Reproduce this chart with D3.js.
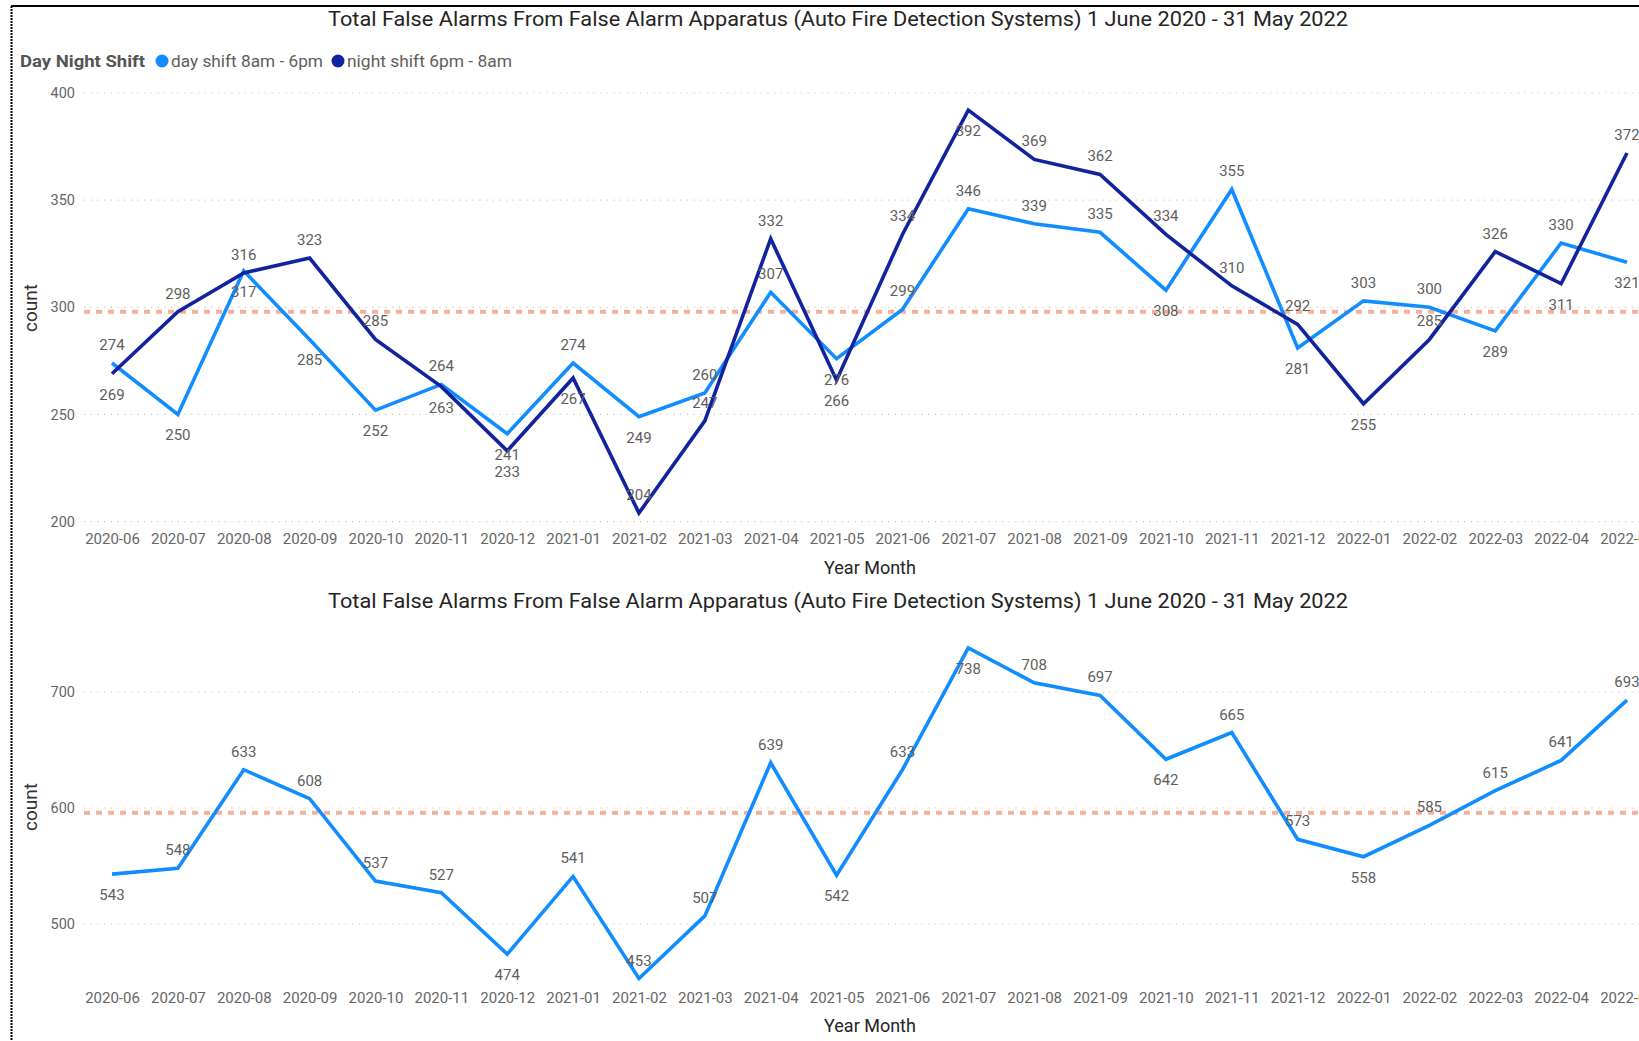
<!DOCTYPE html>
<html>
<head>
<meta charset="utf-8">
<script src="https://cdn.jsdelivr.net/npm/d3@7"></script>
<style>
  html, body { margin: 0; padding: 0; background: #fff; overflow: hidden; }
  svg { display: block; }
  text { font-family: Roboto, "Open Sans", "DejaVu Sans", sans-serif; }
</style>
</head>
<body>
<svg id="chart" width="1639" height="1041"></svg>
<script>
// ---------------- DATA ----------------
const months = ["2020-06","2020-07","2020-08","2020-09","2020-10","2020-11","2020-12",
  "2021-01","2021-02","2021-03","2021-04","2021-05","2021-06","2021-07","2021-08","2021-09",
  "2021-10","2021-11","2021-12","2022-01","2022-02","2022-03","2022-04","2022-05"];
const dayShift   = [274,250,317,285,252,264,241,274,249,260,307,276,299,346,339,335,308,355,281,303,300,289,330,321];
const nightShift = [269,298,316,323,285,263,233,267,204,247,332,266,334,392,369,362,334,310,292,255,285,326,311,372];
const totalAlarms = [543,548,633,608,537,527,474,541,453,507,639,542,633,738,708,697,642,665,573,558,585,615,641,693];
const topTicks = [200,250,300,350,400];
const bottomTicks = [500,600,700];
const topAverage = 297.9;
const bottomAverage = 595.8;
const seriesNames = ["day shift 8am - 6pm","night shift 6pm - 8am"];
const legendTitle = "Day Night Shift";
const chartTitle = "Total False Alarms From False Alarm Apparatus (Auto Fire Detection Systems) 1 June 2020 - 31 May 2022";
const xTitle = "Year Month";
const yTitle = "count";

// ---------------- LAYOUT (label sides: 1 = above, -1 = below) ----------------
const daySide   = [1,-1,-1,-1,-1,1,-1,1,-1,1,1,-1,1,1,1,1,-1,1,-1,1,1,-1,1,-1];
const nightSide = [-1,1,1,1,1,-1,-1,-1,1,1,1,-1,1,-1,1,1,1,1,1,-1,1,1,-1,1];
const totalSide = [-1,1,1,1,1,1,-1,1,1,1,1,-1,1,-1,1,1,-1,1,1,-1,1,1,1,1];

const COL_DAY = "#118DFF", COL_NIGHT = "#12239E", COL_AVG = "#F4B09A";
const COL_TICK = "#666666", COL_LABEL = "#605E5C", COL_TITLE = "#252423";

const svg = d3.select("#chart");

// borders
svg.append("line").attr("x1", 11).attr("x2", 1639).attr("y1", 6).attr("y2", 6)
  .attr("stroke", "#000").attr("stroke-width", 2);
svg.append("line").attr("x1", 11.5).attr("x2", 11.5).attr("y1", 6).attr("y2", 1041)
  .attr("stroke", "#000").attr("stroke-width", 2).attr("stroke-dasharray", "2,1");

const x = d3.scalePoint().domain(months).range([112, 1627]);
const plotLeft = 84, plotRight = 1639;

function panel(opts) {
  const g = svg.append("g");
  const y = d3.scaleLinear().domain(opts.refDomain).range(opts.refRange);

  // title
  g.append("text").attr("x", 838).attr("y", opts.titleY)
    .attr("text-anchor", "middle").attr("dominant-baseline", "central")
    .attr("font-size", 20.5).attr("fill", COL_TITLE)
    .attr("textLength", 1020).attr("lengthAdjust", "spacingAndGlyphs")
    .text(chartTitle);

  // gridlines
  g.append("g").selectAll("line").data(opts.ticks).join("line")
    .attr("x1", plotLeft).attr("x2", plotRight)
    .attr("y1", d => y(d)).attr("y2", d => y(d))
    .attr("stroke", "#C8C8C8").attr("stroke-width", 1.2).attr("stroke-dasharray", "1.2,5.5");

  // y axis
  const ya = g.append("g").attr("transform", "translate(75,0)")
    .call(d3.axisLeft(y).tickValues(opts.ticks).tickSize(0).tickPadding(0).tickFormat(d3.format("d")));
  ya.select(".domain").remove();
  ya.selectAll("text").attr("font-size", 14.5).attr("fill", COL_TICK)
    .attr("font-family", "Roboto, sans-serif");

  // y title
  g.append("text").attr("transform", `translate(31,${opts.yTitleY}) rotate(-90)`)
    .attr("text-anchor", "middle").attr("dominant-baseline", "central")
    .attr("font-size", 17.5).attr("fill", "#333")
    .attr("textLength", 48).attr("lengthAdjust", "spacingAndGlyphs").text(yTitle);

  // x axis
  const xa = g.append("g").attr("transform", `translate(0,${opts.xAxisY})`)
    .call(d3.axisBottom(x).tickSize(0).tickPadding(0));
  xa.select(".domain").remove();
  xa.selectAll("text").attr("font-size", 15).attr("fill", COL_TICK)
    .attr("font-family", "Roboto, sans-serif");

  g.append("text").attr("x", 870).attr("y", opts.xTitleY)
    .attr("text-anchor", "middle").attr("dominant-baseline", "central")
    .attr("font-size", 18).attr("fill", COL_TITLE).text(xTitle);

  // average line
  g.append("line").attr("x1", plotLeft).attr("x2", plotRight)
    .attr("y1", y(opts.avg)).attr("y2", y(opts.avg))
    .attr("stroke", COL_AVG).attr("stroke-width", 4).attr("stroke-dasharray", "6,6");

  const line = d3.line().x((d, i) => x(months[i])).y(d => y(d));
  opts.series.forEach(s => {
    g.append("path").datum(s.values).attr("d", line)
      .attr("fill", "none").attr("stroke", s.color).attr("stroke-width", 3.6)
      .attr("stroke-linejoin", "miter");
  });
  opts.series.forEach(s => {
    g.append("g").selectAll("text").data(s.values).join("text")
      .attr("x", (d, i) => x(months[i]))
      .attr("y", (d, i) => y(d) + (s.side[i] > 0 ? -18 : 21))
      .attr("text-anchor", "middle").attr("dominant-baseline", "central")
      .attr("font-size", 15).attr("fill", COL_LABEL)
      .text(d => d);
  });
  return g;
}

panel({
  refDomain: [200, 400], refRange: [521.6, 93],
  ticks: topTicks, avg: topAverage, titleY: 19, yTitleY: 308, xAxisY: 533, xTitleY: 567,
  series: [
    { values: dayShift, color: COL_DAY, side: daySide },
    { values: nightShift, color: COL_NIGHT, side: nightSide }
  ]
});

panel({
  refDomain: [500, 700], refRange: [924, 692],
  ticks: bottomTicks, avg: bottomAverage, titleY: 601, yTitleY: 807, xAxisY: 992, xTitleY: 1025.5,
  series: [
    { values: totalAlarms, color: COL_DAY, side: totalSide }
  ]
});

// legend
const lg = svg.append("g").attr("transform", "translate(0,61)");
lg.append("text").attr("x", 20).attr("y", 0).attr("dominant-baseline", "central")
  .attr("font-size", 17).attr("font-weight", "bold").attr("fill", "#555")
  .attr("textLength", 125).attr("lengthAdjust", "spacingAndGlyphs").text(legendTitle);
const legendItems = [
  { name: seriesNames[0], color: COL_DAY, cx: 162, tx: 171, w: 152 },
  { name: seriesNames[1], color: COL_NIGHT, cx: 338, tx: 347, w: 165 }
];
legendItems.forEach(it => {
  lg.append("circle").attr("cx", it.cx).attr("cy", 0).attr("r", 6.5).attr("fill", it.color);
  lg.append("text").attr("x", it.tx).attr("y", 0).attr("dominant-baseline", "central")
    .attr("font-size", 17).attr("fill", COL_LABEL)
    .attr("textLength", it.w).attr("lengthAdjust", "spacingAndGlyphs").text(it.name);
});
</script>
</body>
</html>
